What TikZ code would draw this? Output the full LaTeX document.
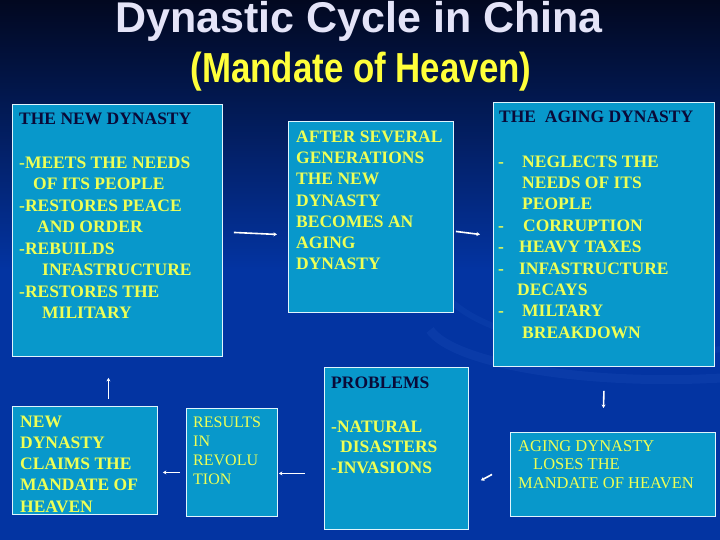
\documentclass[tikz,border=0pt]{standalone}
\usepackage{fontspec}
\setmainfont{Liberation Serif}
\newfontfamily\titlesans{Liberation Sans}
\usepackage{graphicx}
\usetikzlibrary{arrows.meta,positioning}
\definecolor{bgtop}{HTML}{020820}
\definecolor{bgbot}{HTML}{0334A2}
\definecolor{boxfill}{HTML}{0898CB}
\definecolor{txtyellow}{HTML}{EEFF55}
\definecolor{headnavy}{HTML}{0A0A38}
\definecolor{titlelav}{HTML}{E4E4F8}
\definecolor{titleyellow}{HTML}{FFFF3A}
\definecolor{swoosh}{HTML}{2456C0}
\tikzset{
  box/.style     = {draw=white!88!cyan, line width=0.9pt, fill=boxfill,
                    rectangle, anchor=north west, inner sep=0pt},
  headtxt/.style = {anchor=north west, inner sep=0pt, align=left, text=headnavy,
                    font=\bfseries\fontsize{17.5}{21.5}\selectfont},
  bodytxt/.style = {anchor=north west, inner sep=0pt, align=left, text=txtyellow,
                    font=\bfseries\fontsize{17.5}{21.5}\selectfont},
  thintxt/.style = {bodytxt, font=\fontsize{16.5}{18.5}\selectfont},
  flow/.style    = {-{Stealth[length=3.5pt,width=4pt]}, line width=1.6pt, white},
}

\begin{document}
\begin{tikzpicture}[x=1pt,y=-1pt]
\useasboundingbox (0,0) rectangle (720,540);
% background
\shade[top color=bgtop, bottom color=bgbot] (0,0) rectangle (720,270);
\fill[bgbot] (0,269) rectangle (720,540);
\draw[swoosh, line width=9pt, opacity=0.22] (430,330) arc[start angle=190, end angle=330, x radius=240pt, y radius=60pt];
\draw[swoosh, line width=6pt, opacity=0.18] (450,300) arc[start angle=200, end angle=340, x radius=220pt, y radius=80pt];

% title
\node[anchor=base, inner sep=0pt, text=titlelav,
      font=\titlesans\bfseries\fontsize{43}{44}\selectfont] (title) at (359,33) {Dynastic Cycle in China};
\node[anchor=base, inner sep=0pt, text=titleyellow,
      font=\titlesans\bfseries\fontsize{42}{44}\selectfont] (subtitle) at (361,83) {\scalebox{0.83}[1]{(Mandate of Heaven)}};

% boxes
\node[box, minimum width=210pt, minimum height=252pt] (newdyn)   at (12,104)  {};
\node[box, minimum width=165pt, minimum height=191pt] (after)    at (288,121) {};
\node[box, minimum width=221pt, minimum height=264pt] (aging)    at (493,102) {};
\node[box, minimum width=144pt, minimum height=162pt] (problems) at (324,367) {};
\node[box, minimum width=205pt, minimum height=84pt]  (loses)    at (510,432) {};
\node[box, minimum width=145pt, minimum height=108pt] (claims)   at (12,406)  {};
\node[box, minimum width=91pt,  minimum height=108pt] (revolt)   at (186,408) {};

% texts
\node[headtxt] (newdynhead) at (19,112.4) {THE NEW DYNASTY};
\node[bodytxt] (newdynlist) at (19,156.4) {-MEETS THE NEEDS\\
  \hspace*{14pt}OF ITS PEOPLE\\
  -RESTORES PEACE\\
  \hspace*{18pt}AND ORDER\\
  -REBUILDS\\
  \hspace*{23pt}INFASTRUCTURE\\
  -RESTORES THE\\
  \hspace*{23pt}MILITARY};
\node[bodytxt, font=\bfseries\fontsize{17.5}{21.3}\selectfont] (aftertxt) at (296,130.4)
  {AFTER SEVERAL\\GENERATIONS\\THE NEW\\DYNASTY\\BECOMES AN\\AGING\\DYNASTY};
\node[headtxt] (aginghead) at (499,110.4) {THE\ \ AGING DYNASTY};
\node[bodytxt, font=\bfseries\fontsize{17.5}{21.4}\selectfont] (aginglist) at (498,155.4)
  {\makebox[24pt][l]{-}NEGLECTS THE\\
   \hspace*{24pt}NEEDS OF ITS\\
   \hspace*{24pt}PEOPLE\\
   \makebox[25pt][l]{-}CORRUPTION\\
   \makebox[21pt][l]{-}HEAVY TAXES\\
   \makebox[21pt][l]{-}INFASTRUCTURE\\
   \hspace*{19pt}DECAYS\\
   \makebox[24pt][l]{-}MILTARY\\
   \hspace*{24pt}BREAKDOWN};
\node[headtxt] (problemshead) at (331,376.4) {PROBLEMS};
\node[bodytxt, font=\bfseries\fontsize{17.5}{20.5}\selectfont] (problemslist) at (331,420.4)
  {-NATURAL\\\hspace*{9pt}DISASTERS\\-INVASIONS};
\node[thintxt] (losestxt) at (518,440.1)
  {AGING DYNASTY\\\hspace*{15pt}LOSES THE\\MANDATE OF HEAVEN};
\node[bodytxt, font=\bfseries\fontsize{17.5}{21.25}\selectfont] (claimstxt) at (20,415.4)
  {NEW\\DYNASTY\\CLAIMS THE\\MANDATE OF\\HEAVEN};
\node[thintxt, font=\fontsize{16}{19}\selectfont] (revolttxt) at (193,416.4)
  {RESULTS\\IN\\REVOLU\\TION};

% cycle arrows
\draw[flow] ([xshift=11pt,yshift=-2pt]newdyn.east) -- ([xshift=-11pt,yshift=-17.5pt]after.west);
\draw[flow] ([xshift=2pt,yshift=-14.5pt]after.east) -- ([xshift=-13pt]aging.west);
\draw[flow] ([yshift=-24pt]aging.south) -- ([xshift=-9.5pt,yshift=24pt]loses.north);
\draw[flow] ([xshift=-18pt]loses.west) -- ([xshift=12pt,yshift=-32pt]problems.east);
\draw[flow] ([xshift=-19pt,yshift=-25pt]problems.west) -- ([xshift=1pt,yshift=-11pt]revolt.east);
\draw[flow] ([xshift=-6pt,yshift=-10pt]revolt.west) -- ([xshift=5pt,yshift=-12pt]claims.east);
\draw[flow] ([xshift=23.5pt,yshift=7pt]claims.north) -- ([xshift=-9pt,yshift=-21pt]newdyn.south);
\end{tikzpicture}
\end{document}
